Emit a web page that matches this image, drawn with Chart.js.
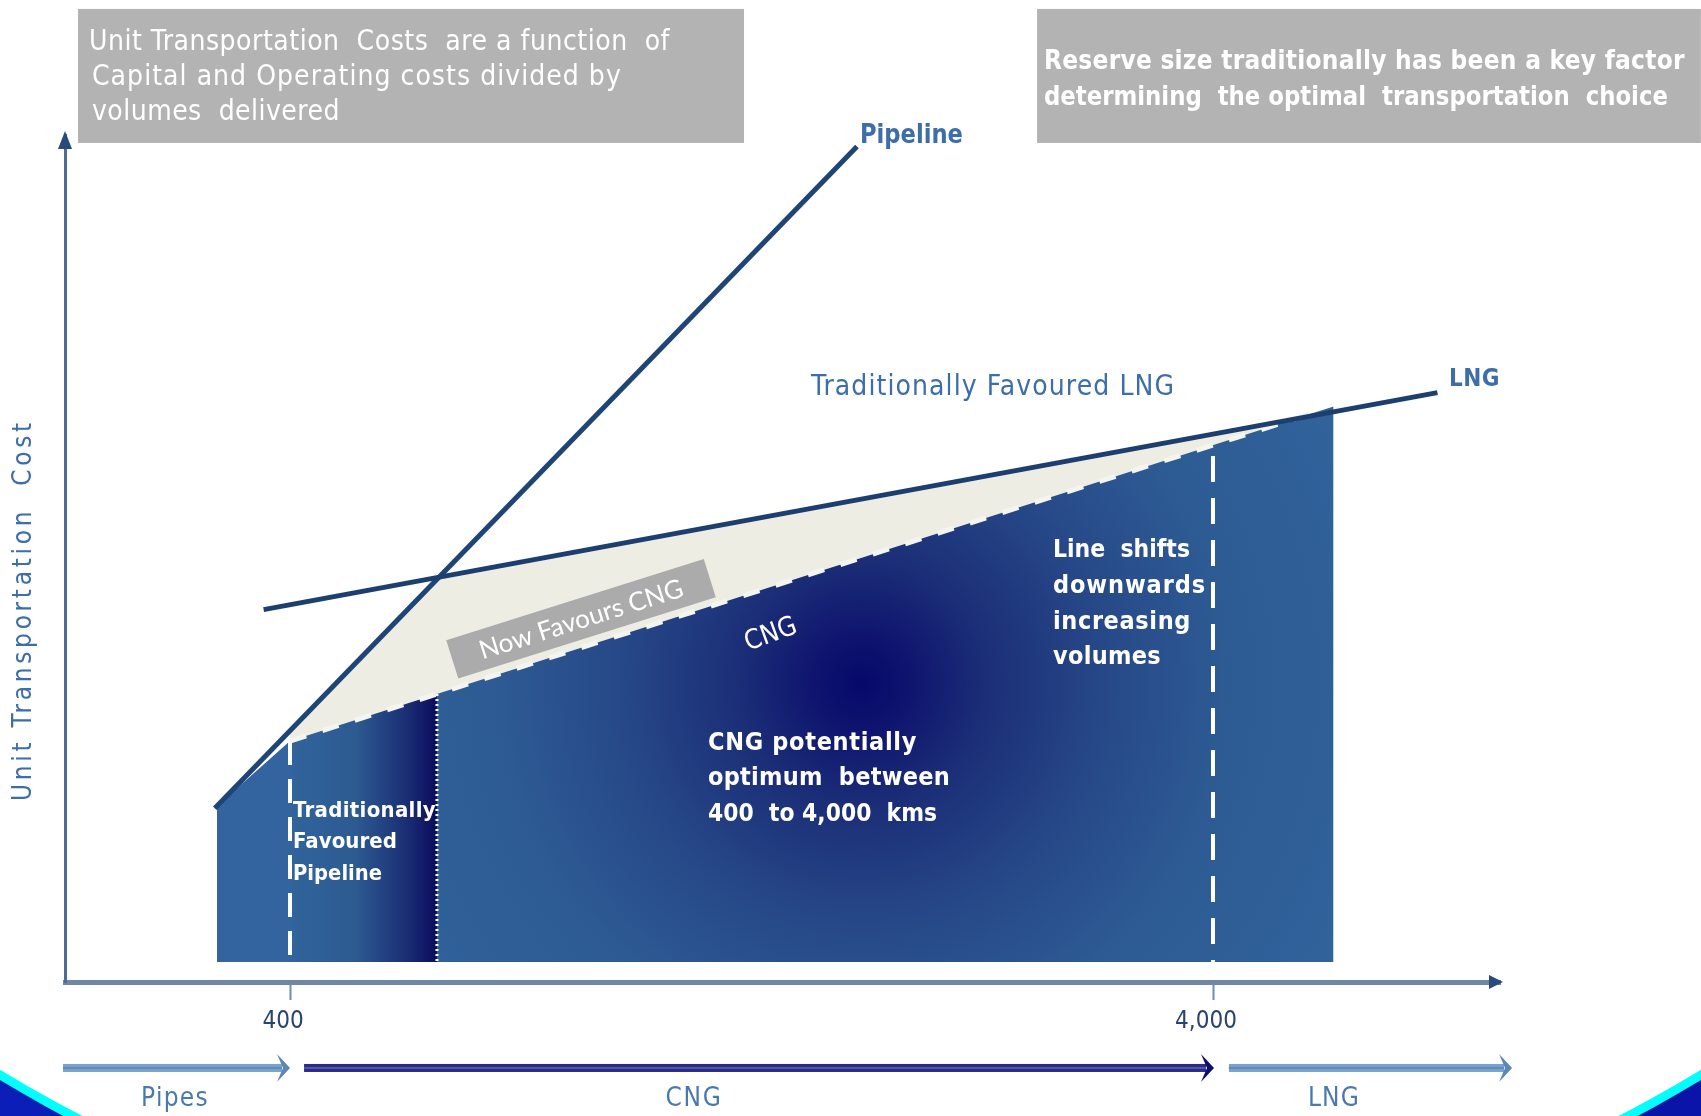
<!DOCTYPE html>
<html>
<head>
<meta charset="utf-8">
<script src="https://cdn.jsdelivr.net/npm/chart.js@4.4.1/dist/chart.umd.min.js"></script>
<style>
  html, body { margin: 0; padding: 0; background: #ffffff; overflow: hidden; }
  canvas { display: block; }
</style>
</head>
<body>
<canvas id="costChart" width="1701" height="1116"></canvas>
<script>
// Distance axis is a conceptual 0-100 index; only two distances are labelled
const distanceTicks = [15.68, 80];
const distanceTickLabels = ['400', '4,000'];

// Unit cost curves as [distance index, cost index] pairs
const pipelineCurve = [[10.44, 20.52], [55.19, 98.65]];
const lngCurve = [[13.84, 43.96], [95.64, 69.58]];
const cngCurve = [[15.68, 28.45], [86.9, 67.14]];

// Upper edges of the shaded zones (filled down to the zone floor)
const zoneFloor = 2.36;
const pipelineZone = [[10.59, 20.78], [15.68, 28.45]];
const transitionZone = [[15.68, 28.45], [25.92, 34.01]];
const cngZone = [[25.92, 34.01], [88.4, 67.95]];
const nowCngZone = [[15.68, 29.67], [26.06, 47.78], [85.64, 66.45]];

// Vertical dividers
const divider400 = [[15.68, 28.45], [15.68, 2.36]];
const dividerTraditional = [[25.92, 34.01], [25.92, 2.36]];
const divider4000 = [[80, 62.1], [80, 2.36]];

// Transport mode bands along the distance axis
const modeBands = ['Pipes', 'CNG', 'LNG'];
const modeBandStart = [-0.14, 16.66, 81.11];
const modeBandEnd = [15.54, 79.93, 100.7];

const pts = arr => arr.map(([x, y]) => ({ x, y }));

const COND = "'DejaVu Sans Condensed', 'Liberation Sans Narrow', 'DejaVu Sans', sans-serif";
const LABEL_BLUE = '#3d6ea9';

function transitionFill(context) {
  const chart = context.chart;
  if (!chart.chartArea) return '#2b5890';
  const x = chart.scales.x;
  const g = chart.ctx.createLinearGradient(x.getPixelForValue(15.68), 0, x.getPixelForValue(25.92), 0);
  g.addColorStop(0, '#31649c');
  g.addColorStop(0.45, '#2c5a91');
  g.addColorStop(0.8, '#1b2d74');
  g.addColorStop(1, '#0b0b5c');
  return g;
}

function cngZoneFill(context) {
  const chart = context.chart;
  if (!chart.chartArea) return '#2b5890';
  const cx = chart.scales.x.getPixelForValue(55.54);
  const cy = chart.scales.y.getPixelForValue(35.3);
  const g = chart.ctx.createRadialGradient(cx, cy, 0, cx, cy, 620);
  g.addColorStop(0, '#06086a');
  g.addColorStop(0.07, '#0e136e');
  g.addColorStop(0.2, '#1b2e77');
  g.addColorStop(0.38, '#264787');
  g.addColorStop(0.58, '#2d5a93');
  g.addColorStop(1, '#33669e');
  return g;
}

const area = (data, color) => ({
  data: pts(data), backgroundColor: color, borderColor: 'rgba(0,0,0,0)', borderWidth: 0,
  pointRadius: 0, fill: { value: zoneFloor }, tension: 0
});
const line = (data, color, width, dash) => ({
  data: pts(data), borderColor: color, borderWidth: width, borderDash: dash || [],
  borderCapStyle: 'butt', pointRadius: 0, fill: false, tension: 0
});

// Listed bottom layer first; Chart.js paints dataset 0 on top, so the list is reversed
const layers = [
  area(nowCngZone, '#eeede3'),
  area(pipelineZone, '#3464a0'),
  area(transitionZone, transitionFill),
  area(cngZone, cngZoneFill),
  line(dividerTraditional, '#ffffff', 3, [2, 3]),
  line(divider400, '#ffffff', 4, [24, 14]),
  line(divider4000, '#ffffff', 4, [26, 16]),
  line(cngCurve, '#f4f4f0', 5, [17, 17]),
  line(pipelineCurve, '#1f4577', 5),
  line(lngCurve, '#1c3f70', 5)
].reverse();

// Slide backdrop: white oval framed by cyan and blue in the corners
const backdrop = {
  id: 'backdrop',
  beforeDraw(chart) {
    const { ctx, width, height } = chart;
    ctx.save();
    const g = ctx.createLinearGradient(0, 0, width, 0);
    g.addColorStop(0, '#0b1fb8');
    g.addColorStop(0.5, '#000a8c');
    g.addColorStop(1, '#0a14a8');
    ctx.fillStyle = g;
    ctx.fillRect(0, 0, width, height);
    ctx.fillStyle = '#00ffff';
    ctx.beginPath();
    ctx.ellipse(850.5, 300, 1351, 1004, 0, 0, Math.PI * 2);
    ctx.fill();
    ctx.fillStyle = '#ffffff';
    ctx.beginPath();
    ctx.ellipse(850.5, 300, 1342, 995, 0, 0, Math.PI * 2);
    ctx.fill();
    ctx.restore();
  }
};

// Text, call-out boxes, axis arrowheads and mode bands
const annotations = {
  id: 'annotations',
  afterDraw(chart) {
    const { ctx } = chart;
    const xs = chart.scales.x, ys = chart.scales.y;
    const px = v => xs.getPixelForValue(v);
    const py = v => ys.getPixelForValue(v);

    // Draws text so that it spans the given width (tracking out or squeezing)
    const text = (str, xu, yu, o) => {
      ctx.save();
      ctx.font = o.font;
      ctx.fillStyle = o.color;
      ctx.textAlign = o.align || 'left';
      ctx.textBaseline = 'middle';
      ctx.translate(px(xu), py(yu));
      if (o.rotate) ctx.rotate(o.rotate * Math.PI / 180);
      if (o.width) {
        const natural = ctx.measureText(str).width;
        if (natural < o.width && 'letterSpacing' in ctx) {
          ctx.letterSpacing = ((o.width - natural) / str.length).toFixed(2) + 'px';
        }
        ctx.fillText(str, 0, 0, o.width);
      } else {
        ctx.fillText(str, 0, 0);
      }
      ctx.restore();
    };

    // Call-out boxes at the top
    ctx.save();
    ctx.fillStyle = '#b3b3b3';
    ctx.fillRect(px(0.906), py(114.88), px(47.32) - px(0.906), py(99.06) - py(114.88));
    ctx.fillRect(px(67.74), py(114.88), px(114.0) - px(67.74), py(99.06) - py(114.88));
    ctx.restore();
    const boxFont = '28px ' + COND;
    const boxBold = 'bold 26px ' + COND;
    const W = '#ffffff';
    text('Unit Transportation  Costs  are a function  of', 1.67, 110.86, { font: boxFont, color: W, width: 581 });
    text('Capital and Operating costs divided by', 1.88, 106.73, { font: boxFont, color: W, width: 530 });
    text('volumes  delivered', 1.88, 102.60, { font: boxFont, color: W, width: 248 });
    text('Reserve size traditionally has been a key factor', 68.22, 108.62, { font: boxBold, color: W, width: 641 });
    text('determining  the optimal  transportation  choice', 68.22, 104.37, { font: boxBold, color: W, width: 624 });

    // Axis arrowheads
    ctx.save();
    ctx.fillStyle = '#294a7a';
    const ax = px(0), ay = py(100);
    ctx.beginPath();
    ctx.moveTo(ax, ay - 4); ctx.lineTo(ax - 7, ay + 14); ctx.lineTo(ax + 7, ay + 14); ctx.closePath();
    ctx.fill();
    const bx = px(100), by = py(0);
    ctx.beginPath();
    ctx.moveTo(bx + 3, by); ctx.lineTo(bx - 11, by - 7); ctx.lineTo(bx - 11, by + 7); ctx.closePath();
    ctx.fill();
    ctx.restore();

    // Axis title
    text('Unit Transportation  Cost', -2.86, 43.92, { font: '26px ' + COND, color: LABEL_BLUE, align: 'center', rotate: -90, width: 382 });

    // Curve labels
    text('Pipeline', 55.40, 99.88, { font: 'bold 26px ' + COND, color: LABEL_BLUE, width: 103 });
    text('LNG', 96.45, 71.07, { font: 'bold 24px ' + COND, color: LABEL_BLUE, width: 51 });
    text('Traditionally Favoured LNG', 51.99, 70.13, { font: '28px ' + COND, color: LABEL_BLUE, width: 364 });
    text('CNG', 49.20, 40.97, { font: '27px ' + COND, color: W, align: 'center', rotate: -20 });

    // "Now Favours CNG" tag
    ctx.save();
    ctx.translate(px(35.96), py(42.89));
    ctx.rotate(-17.5 * Math.PI / 180);
    ctx.fillStyle = '#ababab';
    ctx.fillRect(-135, -20, 270, 40);
    ctx.fillStyle = W;
    ctx.font = "26px 'Lato', 'Open Sans', sans-serif";
    ctx.textAlign = 'center';
    ctx.textBaseline = 'middle';
    ctx.fillText('Now Favours CNG', 0, 1, 236);
    ctx.restore();

    // Zone notes
    const noteFont = 'bold 25px ' + COND;
    text('CNG potentially', 44.81, 28.10, { font: noteFont, color: W, width: 209 });
    text('optimum  between', 44.81, 23.97, { font: noteFont, color: W, width: 242 });
    text('400  to 4,000  kms', 44.81, 19.83, { font: noteFont, color: W, width: 229 });

    text('Line  shifts', 68.85, 50.89, { font: noteFont, color: W, width: 137 });
    text('downwards', 68.85, 46.64, { font: noteFont, color: W, width: 153 });
    text('increasing', 68.85, 42.50, { font: noteFont, color: W, width: 138 });
    text('volumes', 68.85, 38.37, { font: noteFont, color: W, width: 108 });

    const pipeFont = 'bold 22px ' + COND;
    text('Traditionally', 15.89, 20.19, { font: pipeFont, color: W, width: 143 });
    text('Favoured', 15.89, 16.53, { font: pipeFont, color: W, width: 104 });
    text('Pipeline', 15.89, 12.75, { font: pipeFont, color: W, width: 89 });

    // Mode bands below the axis
    const bandStyles = [
      { shaft: '#7aa3cc', core: '#5e8cbd', head: '#5a86b8' },
      { shaft: '#2a2a88', core: '#5656a6', head: '#0e0e6e' },
      { shaft: '#7aa3cc', core: '#5e8cbd', head: '#5a86b8' }
    ];
    const bandY = py(-10.15);
    modeBands.forEach((name, i) => {
      const s = bandStyles[i];
      const x0 = px(modeBandStart[i]), x1 = px(modeBandEnd[i]);
      ctx.save();
      ctx.fillStyle = s.shaft;
      ctx.fillRect(x0, bandY - 4, x1 - x0 - 6, 8);
      ctx.fillStyle = s.core;
      ctx.fillRect(x0, bandY - 1, x1 - x0 - 6, 2);
      ctx.fillStyle = s.head;
      ctx.beginPath();
      ctx.moveTo(x1 - 11, bandY - 14); ctx.lineTo(x1 + 2, bandY); ctx.lineTo(x1 - 11, bandY + 14);
      ctx.lineTo(x1 - 5, bandY); ctx.closePath();
      ctx.fill();
      ctx.restore();
    });
    const bandLabelX = [7.67, 43.83, 88.43];
    const bandLabelW = [68, 57, 52];
    modeBands.forEach((name, i) => {
      text(name, bandLabelX[i], -13.81, { font: '26px ' + COND, color: '#4a79ae', align: 'center', width: bandLabelW[i] });
    });
  }
};

new Chart(document.getElementById('costChart'), {
  type: 'line',
  data: { datasets: layers },
  options: {
    responsive: false,
    animation: false,
    devicePixelRatio: 1,
    events: [],
    layout: { padding: { left: 0, right: 201, top: 135, bottom: 0 } },
    plugins: {
      legend: { display: false },
      tooltip: { enabled: false },
      filler: { propagate: false }
    },
    scales: {
      x: {
        type: 'linear', min: 0, max: 100, position: 'bottom',
        afterFit: s => { s.height = 134; },
        afterBuildTicks: s => { s.ticks = distanceTicks.map(v => ({ value: v })); },
        grid: { display: true, drawOnChartArea: false, drawTicks: true, tickLength: 18, tickWidth: 2, tickColor: '#6d8db4' },
        border: { display: true, color: '#7086a6', width: 5 },
        ticks: {
          autoSkip: false, maxRotation: 0, padding: 7, labelOffset: -7,
          color: '#2a4470', font: { family: COND, size: 24 },
          callback: (v, i) => distanceTickLabels[i]
        }
      },
      y: {
        type: 'linear', min: 0, max: 100, position: 'left',
        afterFit: s => { s.width = 65; },
        grid: { display: false },
        ticks: { display: false },
        border: { display: true, color: '#4d6b94', width: 3 }
      }
    }
  },
  plugins: [backdrop, annotations]
});
</script>
</body>
</html>
